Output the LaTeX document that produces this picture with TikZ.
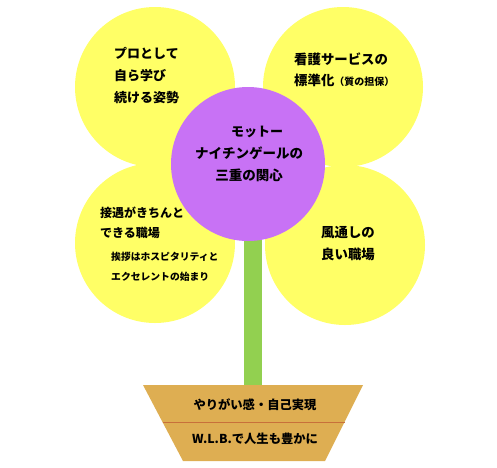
\documentclass[tikz,border=0pt]{standalone}
\usepackage{fontspec}
\newfontfamily\cjk{Noto Sans CJK JP}
\definecolor{petalyellow}{HTML}{FFFF66}
\definecolor{heartpurple}{HTML}{C872F5}
\definecolor{stemgreen}{HTML}{92D050}
\definecolor{pottan}{HTML}{DEAE52}
\definecolor{potline}{HTML}{C8703A}
\begin{document}
\begin{tikzpicture}[x=1pt,y=-1pt,
  petal/.style={circle,fill=petalyellow,minimum size=2*\r,inner sep=0pt},
  heart/.style={circle,fill=heartpurple,minimum size=2*\R,inner sep=0pt},
  stem/.style={draw=stemgreen,line width=18pt},
  word/.style={inner sep=0pt,font=\cjk\bfseries\fontsize{13}{22}\selectfont},
  small/.style={inner sep=0pt,font=\cjk\bfseries\fontsize{9.8}{20}\selectfont}]
\def\r{80pt}
\def\R{77pt}

\useasboundingbox (0,0) rectangle (497,467);

% petals
\foreach \n/\x/\y in {tl/155/87, tr/343/87, bl/155/243, br/345/245}
{
    \node[petal] (\n) at (\x,\y) {};
}

% stem and pot
\coordinate (stemtop) at (253,200);
\coordinate (stembase) at (253,385);
\draw[stem] (stemtop) -- (stembase);

\coordinate (potnw) at (143,385);
\coordinate (potne) at (363,385);
\coordinate (potse) at (325,461);
\coordinate (potsw) at (183,461);
\fill[pottan] (potnw) -- (potne) -- (potse) -- (potsw) -- cycle;
\coordinate (potl) at (162.5,422);
\coordinate (potr) at (344.5,422);
\draw[potline,line width=1pt] (potl) -- (potr);

\node[word,font=\cjk\bfseries\fontsize{12.3}{20}\selectfont] (joy) at (255,405) {やりがい感・自己実現};
\node[word,font=\cjk\bfseries\fontsize{12.3}{20}\selectfont] (wlb) at (255,439) {W.L.B.で人生も豊かに};

% centre of the flower
\node[heart] (heart) at (248,164) {};
\node[word] (motto) at (257,132) {モットー};
\node[word,align=center,font=\cjk\bfseries\fontsize{13.5}{22}\selectfont] (concern) at (249,164) {ナイチンゲールの\\三重の関心};

% texts on the petals
\node[word,align=left,anchor=west] (pro) at (114,75) {プロとして\\自ら学び\\続ける姿勢};
\node[word,align=left,anchor=west,font=\cjk\bfseries\fontsize{13.4}{21}\selectfont] (std) at (294,69.5)
  {看護サービスの\\標準化{\fontsize{10}{21}\selectfont （質の担保）}};
\node[word,align=left,anchor=west,font=\cjk\bfseries\fontsize{12}{20}\selectfont] (serve) at (100,223) {接遇がきちんと\\できる職場};
\node[small,align=left,anchor=west] (greet) at (111,267) {挨拶はホスピタリティと\\エクセレントの始まり};
\node[word,align=center,font=\cjk\bfseries\fontsize{13.4}{22}\selectfont] (open) at (348,244) {風通しの\\良い職場};

\end{tikzpicture}
\end{document}
